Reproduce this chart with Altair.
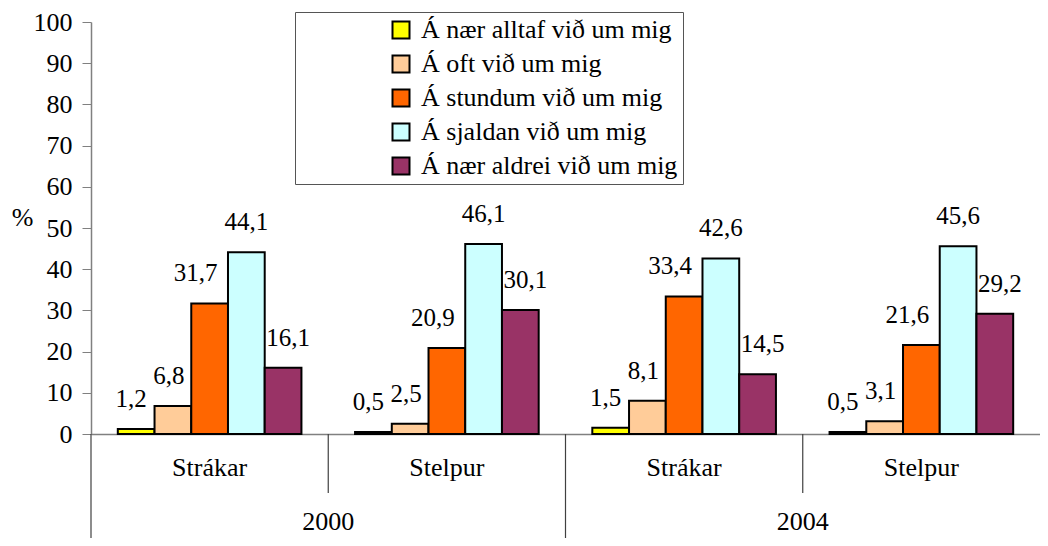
import altair as alt
import pandas as pd

groups = ["2000 Strákar", "2000 Stelpur", "2004 Strákar", "2004 Stelpur"]
subgroups = ["Strákar", "Stelpur", "Strákar", "Stelpur"]
years = ["2000", "2004"]
year_first_group = ["2000 Strákar", "2004 Strákar"]
series = [
    "Á nær alltaf við um mig",
    "Á oft við um mig",
    "Á stundum við um mig",
    "Á sjaldan við um mig",
    "Á nær aldrei við um mig",
]
colors = ["#FFFF00", "#FFCC99", "#FF6600", "#CCFFFF", "#993366"]
v_alltaf = [1.2, 0.5, 1.5, 0.5]
v_oft = [6.8, 2.5, 8.1, 3.1]
v_stundum = [31.7, 20.9, 33.4, 21.6]
v_sjaldan = [44.1, 46.1, 42.6, 45.6]
v_aldrei = [16.1, 30.1, 14.5, 29.2]
all_values = [v_alltaf, v_oft, v_stundum, v_sjaldan, v_aldrei]
label_dx = [-5, -4, -14, 0, 5]

rows = []
for s, vals in zip(series, all_values):
    for g, v in zip(groups, vals):
        rows.append({"group": g, "series": s, "value": v, "label": f"{v:.1f}".replace(".", ",")})
df = pd.DataFrame(rows)

W, H = 949, 412
FONT = "Liberation Serif"

xscale = alt.Scale(domain=groups, paddingInner=0, paddingOuter=0)
xaxis = alt.Axis(labels=False, ticks=False, title=None, domainColor="#808080", domainWidth=1.5, grid=False)
x_enc = alt.X("group:N", sort=groups, scale=xscale, axis=xaxis)
xoff = alt.XOffset("series:N", sort=series, scale=alt.Scale(domain=series, paddingInner=0, paddingOuter=0.73))
y_enc = alt.Y(
    "value:Q",
    scale=alt.Scale(domain=[0, 100], nice=False),
    axis=alt.Axis(
        values=list(range(0, 101, 10)),
        title="%",
        titleAngle=0,
        titleX=-69,
        titleY=195,
        titleBaseline="middle",
        titleAlign="center",
        titleFontSize=26,
        titleFontWeight="normal",
        titleFont=FONT,
        titleColor="black",
        labelFont=FONT,
        labelFontSize=26,
        labelColor="black",
        labelPadding=10,
        tickSize=9,
        tickColor="#808080",
        domainColor="#808080",
        domainWidth=1.5,
        grid=False,
    ),
)

bars = alt.Chart(df).mark_bar(stroke="black", strokeWidth=2).encode(
    x=x_enc,
    xOffset=xoff,
    y=y_enc,
    color=alt.Color(
        "series:N",
        sort=series,
        scale=alt.Scale(domain=series, range=colors),
        legend=alt.Legend(
            orient="none",
            legendX=204,
            legendY=-10,
            title=" ",
            titleOrient="left",
            titlePadding=88,
            titleFontSize=10,
            titleFont=FONT,
            symbolType="square",
            symbolSize=289,
            symbolStrokeColor="black",
            symbolStrokeWidth=2,
            symbolOpacity=1,
            labelFont=FONT,
            labelFontSize=26,
            labelColor="black",
            labelOffset=7,
            labelLimit=400,
            rowPadding=8,
            padding=5,
            strokeColor="#555555",
            fillColor="white",
        ),
    ),
)

label_layers = []
for i, s in enumerate(series):
    label_layers.append(
        alt.Chart(df)
        .transform_filter(alt.datum.series == s)
        .mark_text(dx=label_dx[i], dy=-30, baseline="middle", align="center", fontSize=25, font=FONT, color="black")
        .encode(x=x_enc, xOffset=xoff, y=y_enc, text="label:N")
    )

df_sub = pd.DataFrame({"group": groups, "sub": subgroups})
sub_text = alt.Chart(df_sub).mark_text(fontSize=26, font=FONT, color="black", baseline="middle").encode(
    x=x_enc, y=alt.value(H + 34), text="sub:N"
)

df_year = pd.DataFrame({"group": year_first_group, "year": years})
year_text = alt.Chart(df_year).mark_text(fontSize=26, font=FONT, color="black", baseline="middle").encode(
    x=alt.X("group:N", sort=groups, scale=xscale, axis=xaxis, bandPosition=1), y=alt.value(H + 88), text="year:N"
)

df_long = pd.DataFrame({"group": [groups[0], groups[2]]})
df_short = pd.DataFrame({"group": [groups[1], groups[3]]})
long_sep = alt.Chart(df_long).mark_rule(color="#404040", strokeWidth=1.2).encode(
    x=alt.X("group:N", sort=groups, scale=xscale, axis=xaxis, bandPosition=0),
    y=alt.value(H),
    y2=alt.value(H + 104),
)
short_sep = alt.Chart(df_short).mark_rule(color="#404040", strokeWidth=1.2).encode(
    x=alt.X("group:N", sort=groups, scale=xscale, axis=xaxis, bandPosition=0),
    y=alt.value(H),
    y2=alt.value(H + 59),
)

chart = alt.layer(bars, *label_layers, sub_text, year_text, long_sep, short_sep).properties(
    width=W,
    height=H,
    autosize=alt.AutoSizeParams(type="none"),
    padding={"left": 83, "top": 14, "right": 0, "bottom": 104},
    view=alt.ViewBackground(strokeWidth=0),
)

chart.save("out.html", embed_options={"renderer": "svg", "actions": False})
